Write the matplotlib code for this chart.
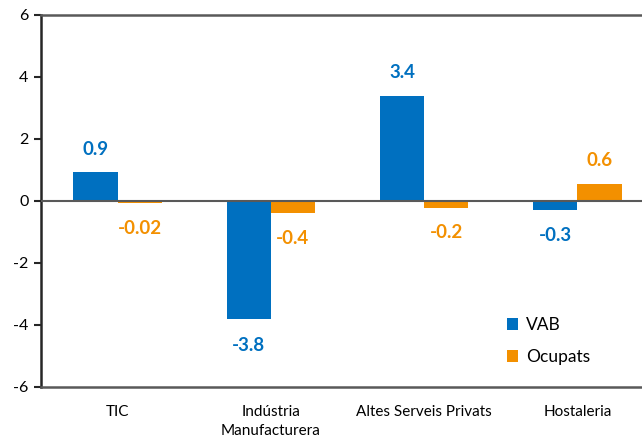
import numpy as np
from matplotlib import pyplot as plt

plt.rcParams['font.family'] = ['Lato', 'DejaVu Sans']
plt.rcParams['axes.unicode_minus'] = False

categories = ["TIC", "Indústria\nManufacturera", "Altes Serveis Privats", "Hostaleria"]
vab = [0.93, -3.81, 3.39, -0.28]
ocupats = [-0.07, -0.39, -0.22, 0.55]
vab_labels = ["0.9", "-3.8", "3.4", "-0.3"]
ocupats_labels = ["-0.02", "-0.4", "-0.2", "0.6"]

BLUE = "#0070C0"
ORANGE = "#F39000"
GREY = "#595959"

fig = plt.figure(figsize=(6.42, 4.42), dpi=100)
# the plot area runs a little past the right edge of the picture
ax = fig.add_axes([41 / 642, 55 / 442, 613 / 642, 372 / 442])

x = np.arange(len(categories))
w = 0.288
ax.bar(x - w / 2, vab, width=w, color=BLUE, label="VAB", zorder=2)
ax.bar(x + w / 2, ocupats, width=w, color=ORANGE, label="Ocupats", zorder=2)
ax.axhline(0, color=GREY, lw=1.5, zorder=3)

# value labels, offset in pixels from the bar end
for i, v in enumerate(vab):
    off = 23 if v > 0 else -26
    ax.annotate(vab_labels[i], (x[i] - w / 2, v), xytext=(0, off * 72 / 100),
                textcoords="offset points", ha="center", va="center",
                color=BLUE, fontsize=13.5, fontweight="bold")
for i, v in enumerate(ocupats):
    off = 23 if v > 0 else -25
    ax.annotate(ocupats_labels[i], (x[i] + w / 2, v), xytext=(0, off * 72 / 100),
                textcoords="offset points", ha="center", va="center",
                color=ORANGE, fontsize=13.5, fontweight="bold")

ax.set_xlim(-0.5, len(categories) - 0.5)
ax.set_ylim(-6, 6)
ax.set_yticks(range(-6, 7, 2))
ax.set_xticks(x)
ax.set_xticklabels(categories, fontsize=11, linespacing=1.45)
ax.tick_params(axis="x", length=0, pad=13)
ax.tick_params(axis="y", length=5, width=1.5, color="#262626", labelsize=11.5, pad=4)

ax.spines["right"].set_visible(False)
ax.spines["left"].set_color("#262626")
ax.spines["left"].set_linewidth(1.8)
for s in ["top", "bottom"]:
    ax.spines[s].set_color(GREY)
    ax.spines[s].set_linewidth(1.8)

ax.legend(loc="center left", bbox_to_anchor=(491 / 642, 1 - 341 / 442),
          bbox_transform=fig.transFigure, frameon=False,
          fontsize=12.5, handlelength=0.65, handleheight=0.65, handletextpad=0.45,
          labelspacing=0.9)

fig.savefig("out.png", dpi=100)
